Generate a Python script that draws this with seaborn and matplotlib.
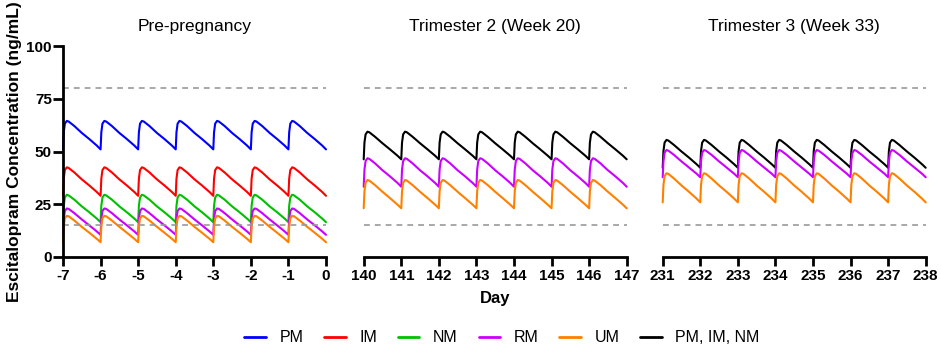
import numpy as np
import pandas as pd
import seaborn as sns
import matplotlib.pyplot as plt
from matplotlib.lines import Line2D

sns.set_style("ticks")
plt.rcParams['font.family'] = ['Liberation Sans', 'DejaVu Sans']
plt.rcParams['axes.unicode_minus'] = False
plt.rcParams['text.color'] = 'black'
plt.rcParams['axes.labelcolor'] = 'black'
plt.rcParams['xtick.color'] = 'black'
plt.rcParams['ytick.color'] = 'black'
plt.rcParams['axes.edgecolor'] = 'black'

# one dosing interval (fraction of a day) and the concentration read at each point
phase = [0, 0.02, 0.05, 0.1, 0.15, 0.3, 0.5, 0.7, 0.9, 1.0]

pre_pm = [51.0, 59.1, 63.2, 64.5, 64.2, 62.1, 58.8, 55.9, 52.8, 51.0]
pre_im = [29.0, 37.1, 41.2, 42.5, 42.2, 40.1, 36.8, 33.9, 30.8, 29.0]
pre_nm = [16.5, 24.3, 28.2, 29.5, 29.2, 27.2, 24.0, 21.2, 18.2, 16.5]
pre_rm = [10.5, 18.0, 21.8, 23.0, 22.8, 20.8, 17.8, 15.0, 12.1, 10.5]
pre_um = [7.0, 14.5, 18.3, 19.5, 19.3, 17.3, 14.3, 11.5, 8.6, 7.0]

t2_pin = [46.3, 54.2, 58.1, 59.4, 59.1, 57.0, 53.9, 51.0, 48.0, 46.3]
t2_rm = [33.3, 41.4, 45.5, 46.8, 46.5, 44.4, 41.1, 38.2, 35.1, 33.3]
t2_um = [23.1, 31.1, 35.2, 36.5, 36.2, 34.1, 30.9, 27.9, 24.8, 23.1]

t3_pin = [42.3, 50.2, 54.2, 55.5, 55.2, 53.1, 50.0, 47.1, 44.0, 42.3]
t3_rm = [37.8, 45.5, 49.4, 50.7, 50.4, 48.4, 45.3, 42.4, 39.5, 37.8]
t3_um = [25.9, 34.2, 38.3, 39.7, 39.4, 37.2, 33.9, 30.9, 27.7, 25.9]

panels = [
    ("Pre-pregnancy", -7, [("PM", pre_pm), ("IM", pre_im), ("NM", pre_nm), ("RM", pre_rm), ("UM", pre_um)]),
    ("Trimester 2 (Week 20)", 140, [("PM, IM, NM", t2_pin), ("RM", t2_rm), ("UM", t2_um)]),
    ("Trimester 3 (Week 33)", 231, [("PM, IM, NM", t3_pin), ("RM", t3_rm), ("UM", t3_um)]),
]

colors = {"PM": "#0000ff", "IM": "#ff0000", "NM": "#00c000", "RM": "#cc00ff",
          "UM": "#ff8000", "PM, IM, NM": "#000000"}
n_days = 7


def build(start, cycle):
    rows = []
    for d in range(n_days):
        for p, v in zip(phase[:-1], cycle[:-1]):
            rows.append((start + d + p, v))
    rows.append((start + n_days, cycle[-1]))
    return pd.DataFrame(rows, columns=["day", "conc"])


fig = plt.figure(figsize=(9.41, 3.5), dpi=100)
lefts = [63 / 941, 363.7 / 941, 662.7 / 941]

for i, (title, start, series) in enumerate(panels):
    ax = fig.add_axes([lefts[i], 93 / 350, 263 / 941, 211 / 350])
    for name, cycle in series:
        df = build(start, cycle)
        sns.lineplot(data=df, x="day", y="conc", color=colors[name], lw=1.5, ax=ax, clip_on=False)
    for ref in [80, 15]:
        ax.axhline(ref, color="#999999", ls=(0, (3.5, 3)), lw=1.2)
    ax.set_xlim(start, start + n_days)
    ax.set_ylim(0, 100)
    ax.set_xticks(range(start, start + n_days + 1))
    ax.set_xticks([start, start + n_days], minor=True)
    ax.tick_params(axis="x", which="major", direction="out", length=6.5, width=2, labelsize=11, pad=2)
    ax.tick_params(axis="x", which="minor", direction="inout", length=11, width=2)
    for lab in ax.get_xticklabels():
        lab.set_fontweight("bold")
    ax.spines["top"].set_visible(False)
    ax.spines["right"].set_visible(False)
    ax.spines["bottom"].set_linewidth(2)
    ax.set_title(title, fontsize=12.5, pad=11)
    ax.set_xlabel("")
    if i == 0:
        ax.set_yticks([0, 25, 50, 75, 100])
        ax.spines["left"].set_linewidth(2)
        ax.tick_params(axis="y", direction="out", length=7, width=2, labelsize=11, pad=1)
        for lab in ax.get_yticklabels():
            lab.set_fontweight("bold")
        ax.set_ylabel("Escitalopram Concentration (ng/mL)", fontsize=12.5, fontweight="bold", labelpad=3)
    else:
        ax.spines["left"].set_visible(False)
        ax.set_yticks([])
        ax.set_ylabel("")
    if i == 1:
        ax.set_xlabel("Day", fontsize=12, fontweight="bold", labelpad=6)

handles = [Line2D([], [], color=c, lw=2) for c in colors.values()]
fig.legend(handles, list(colors.keys()), loc="center", bbox_to_anchor=(502 / 941, 12 / 350), ncol=6,
           frameon=False, fontsize=11.5, handlelength=1.35, columnspacing=1.3, handletextpad=0.85)

fig.savefig("out.png", dpi=100)
